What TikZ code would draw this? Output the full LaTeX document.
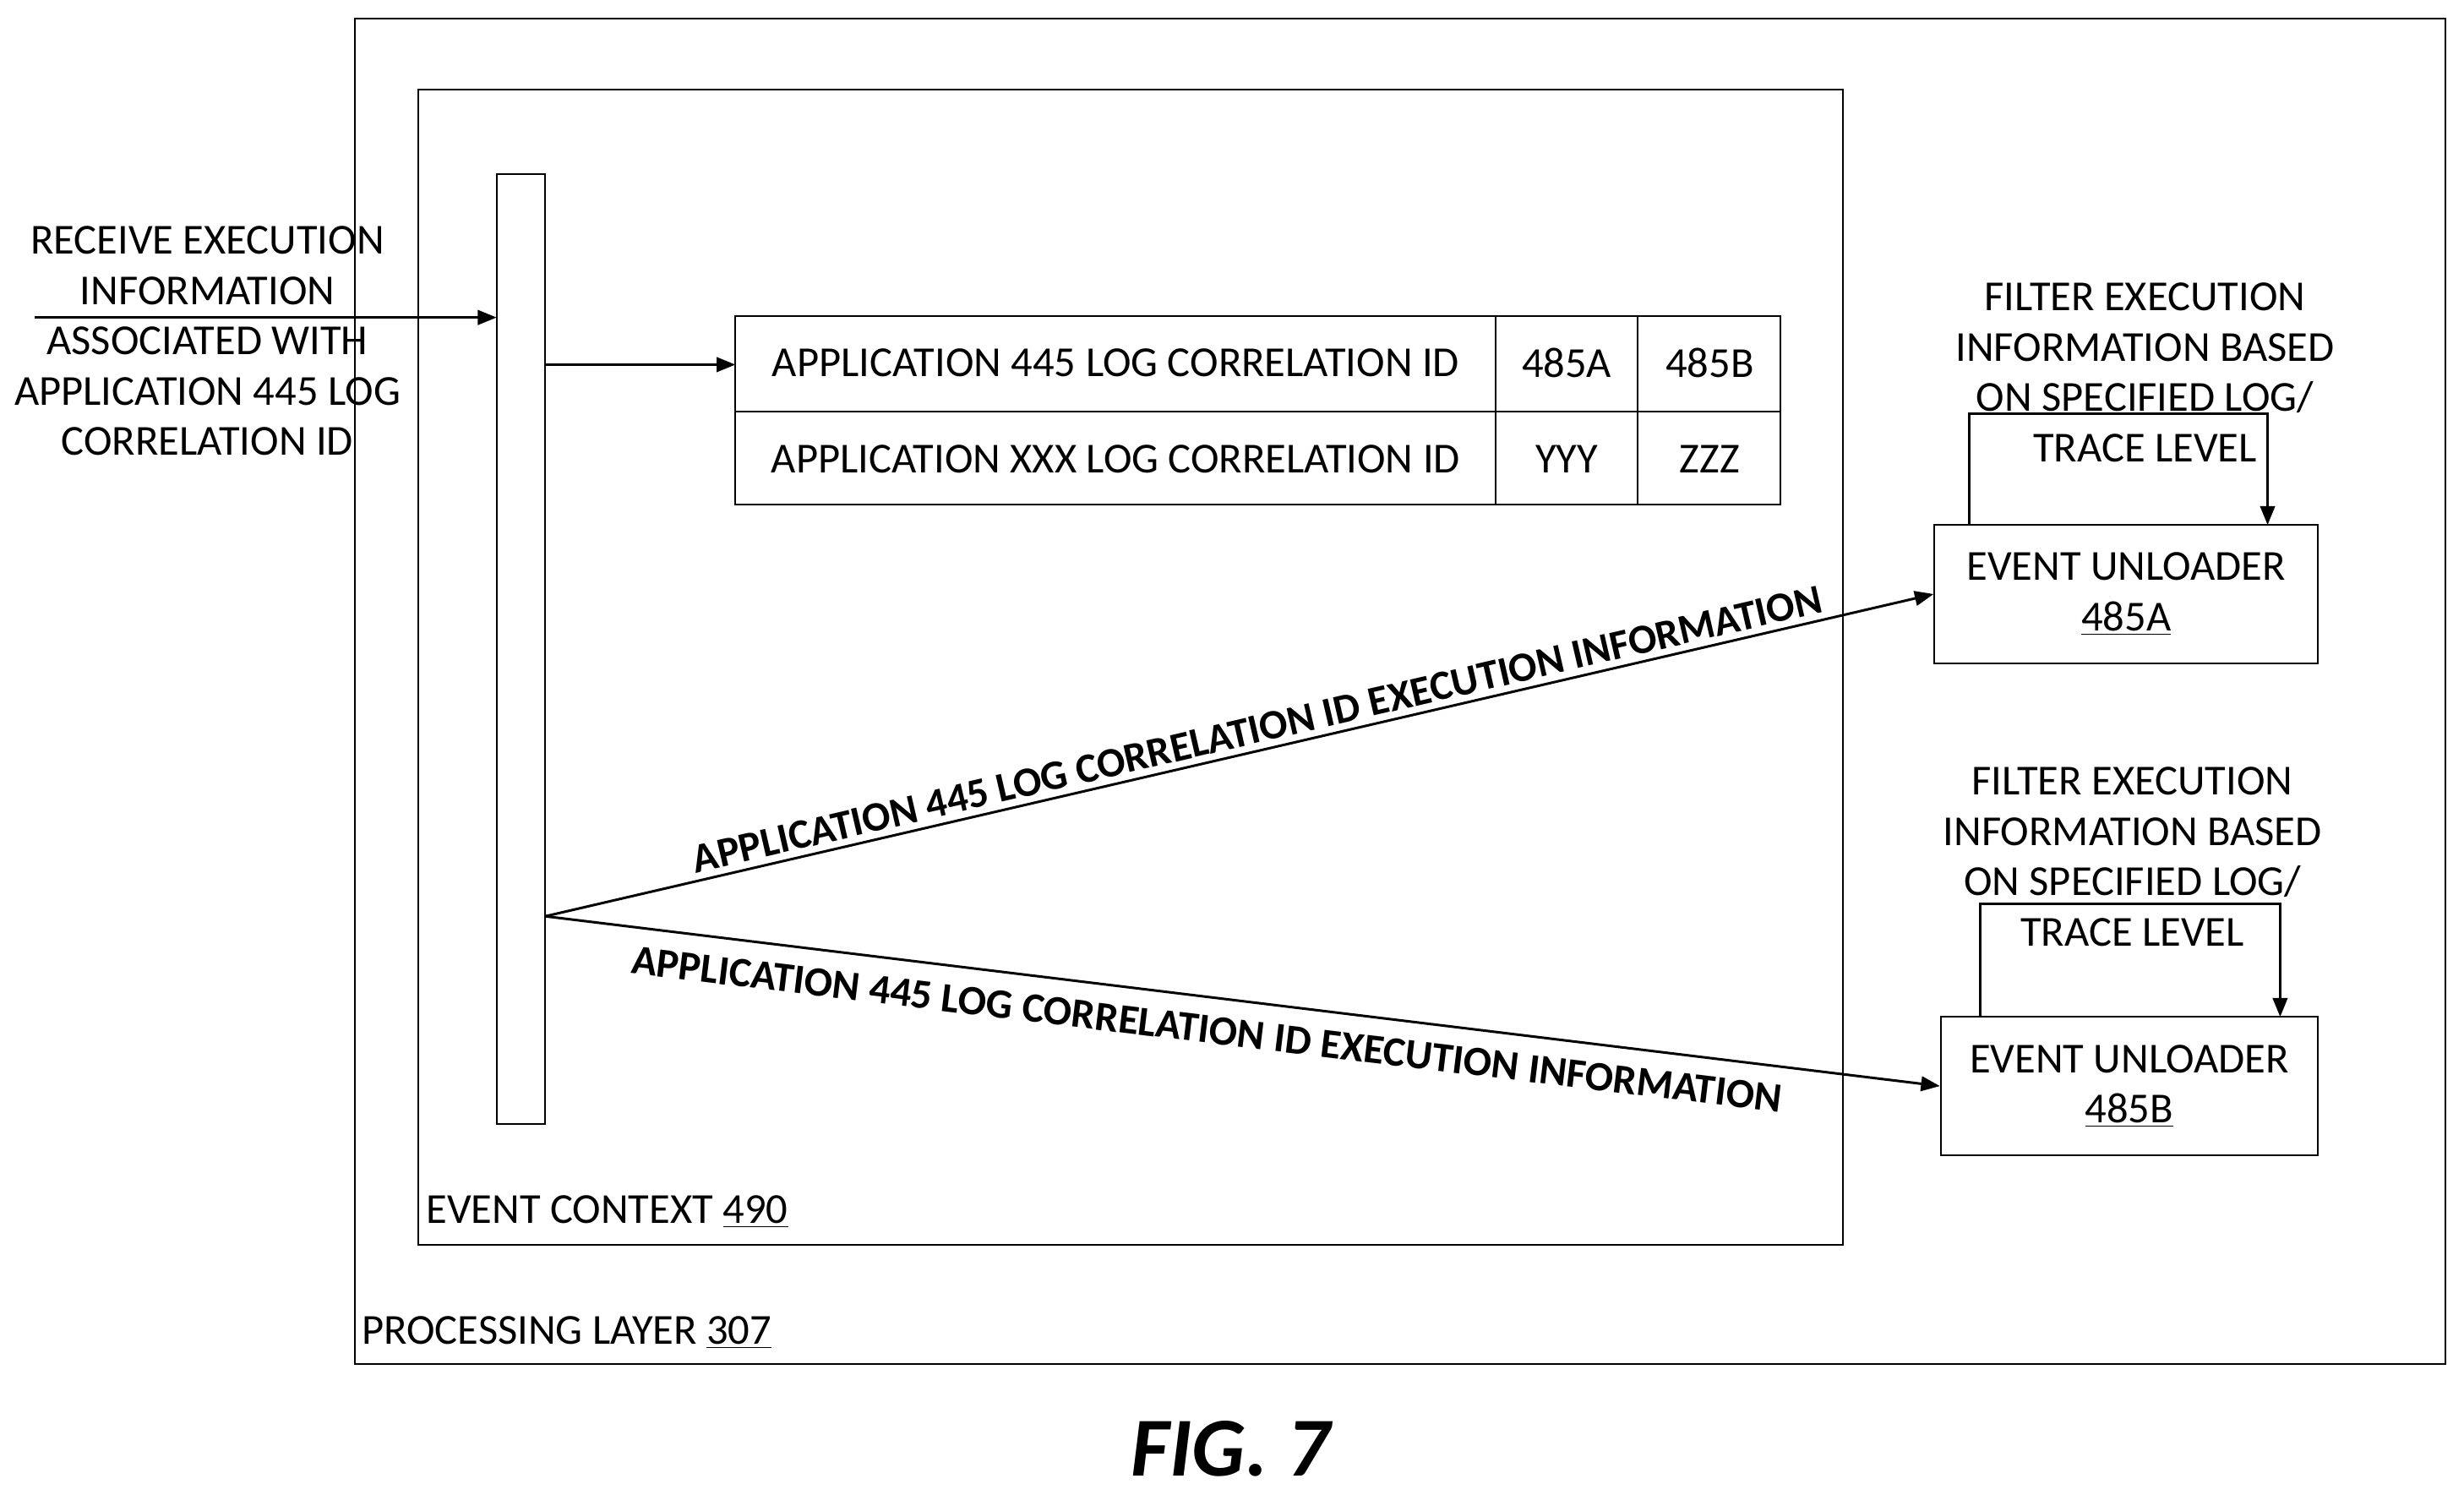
\documentclass[tikz,border=0pt]{standalone}
\usepackage{fontspec}
\setmainfont{Carlito}
\usetikzlibrary{arrows.meta,positioning}
\tikzset{
  box/.style={draw,line width=0.8pt},
  txt/.style={inner sep=0.75pt,font=\fontsize{20.4}{24}\selectfont,align=center},
  diag/.style={inner sep=0.75pt,font=\fontsize{19.9}{24}\selectfont\bfseries},
  arr/.style={line width=1.2pt,-{Triangle[length=9pt,width=7pt]}}
}
\begin{document}
\begin{tikzpicture}[x=0.75pt,y=-0.75pt]
    \useasboundingbox (0,0) rectangle (1568,951);
    % frames
    \draw[box] (226,12) rectangle (1556,868);
    \draw[box] (266,57) rectangle (1173,792);
    \draw[box] (316,111) rectangle (347,715);
    \coordinate (barin) at (316,202);
    \coordinate (barout) at (347,232);
    \coordinate (barfan) at (347,583);
    \coordinate (start) at (22,202);
    % table
    \draw[box] (468,201) rectangle (1133,321);
    \draw[box] (468,262) -- (1133,262);
    \draw[box] (952,201) -- (952,321);
    \draw[box] (1042,201) -- (1042,321);
    \coordinate (tbl) at (468,232);
    \node[txt] (r1) at (710,231) {APPLICATION 445 LOG CORRELATION ID};
    \node[txt] (r1a) at (997,231) {485A};
    \node[txt] (r1b) at (1088,231) {485B};
    \node[txt] (r2) at (710,292) {APPLICATION XXX LOG CORRELATION ID};
    \node[txt] (r2a) at (997,292) {YYY};
    \node[txt] (r2b) at (1088,292) {ZZZ};
    % unloaders
    \node[box,txt,minimum width=183pt,minimum height=66pt] (ulA) at (1353,378) {EVENT UNLOADER\\\underline{485A}};
    \node[box,txt,minimum width=180pt,minimum height=66pt] (ulB) at (1355,691) {EVENT UNLOADER\\\underline{485B}};
    \node[txt] (fA) at (1365,237) {FILTER EXECUTION\\INFORMATION BASED\\ON SPECIFIED LOG/\\TRACE LEVEL};
    \node[txt] (fB) at (1357,545) {FILTER EXECUTION\\INFORMATION BASED\\ON SPECIFIED LOG/\\TRACE LEVEL};
    \draw[arr] (1253,334) -- (1253,263) -- (1443,263) -- (1443,334);
    \draw[arr] (1260,647) -- (1260,575) -- (1451,575) -- (1451,647);
    % input
    \node[txt] (recv) at (132,217) {RECEIVE EXECUTION\\INFORMATION\\ASSOCIATED WITH\\APPLICATION 445 LOG\\CORRELATION ID};
    \draw[arr] (start) -- (barin);
    \draw[arr] (barout) -- (tbl);
    \draw[arr] (barfan) -- (ulA.west);
    \draw[arr] (barfan) -- (ulB.west);
    \node[diag,rotate=13.05] (lA) at (800,464) {APPLICATION 445 LOG CORRELATION ID EXECUTION INFORMATION};
    \node[diag,rotate=-6.9] (lB) at (768,655) {APPLICATION 445 LOG CORRELATION ID EXECUTION INFORMATION};
    % captions
    \node[txt,anchor=west] (ec) at (270,771) {EVENT CONTEXT \underline{490}};
    \node[txt,anchor=west] (pl) at (229,848) {PROCESSING LAYER \underline{307}};
    \node[inner sep=0pt,font=\fontsize{40}{44}\selectfont\bfseries\itshape] (fig) at (783,922) {FIG. 7};
\end{tikzpicture}
\end{document}
